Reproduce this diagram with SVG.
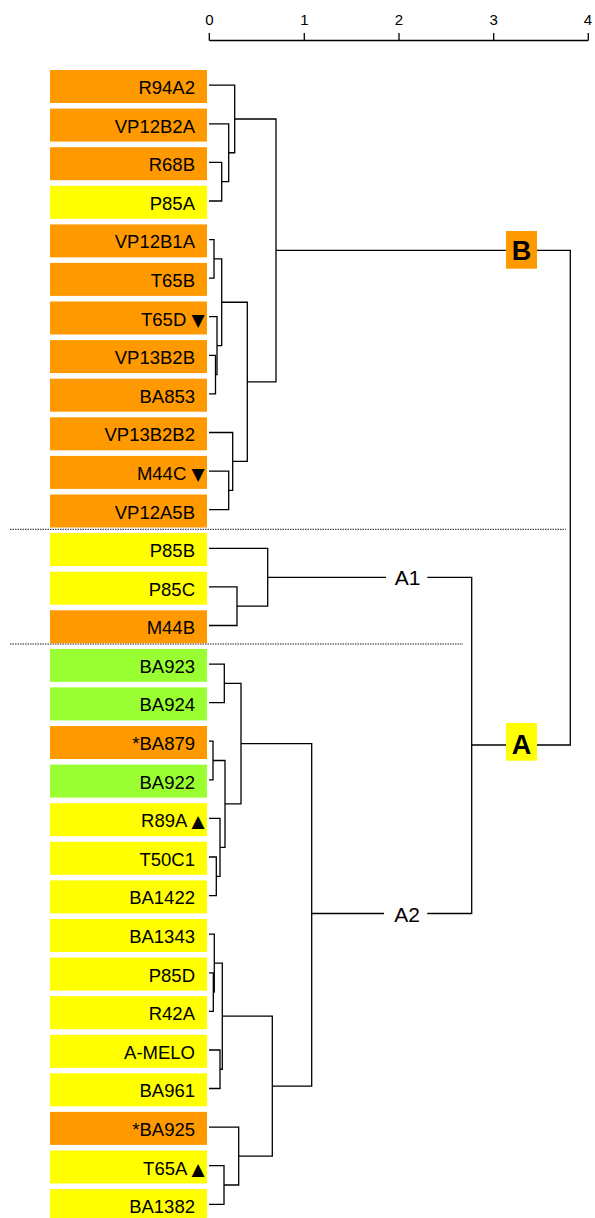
<svg xmlns="http://www.w3.org/2000/svg" width="595" height="1218" viewBox="0 0 595 1218">
<style>
.o{fill:#FF9900}.y{fill:#FFFF00}.g{fill:#99FF33}
.lb{font-family:"Liberation Sans","DejaVu Sans",sans-serif;font-size:18.5px;fill:#000;text-anchor:end}
.tri{font-family:"DejaVu Sans",sans-serif;font-size:17px}
.ax{font-family:"Liberation Sans",sans-serif;font-size:15px;fill:#000;text-anchor:middle}
.cl{font-family:"Liberation Sans",sans-serif;font-size:21px;fill:#000;text-anchor:middle}
.big{font-family:"Liberation Sans",sans-serif;font-size:27px;font-weight:bold;fill:#000;text-anchor:middle}
.ln{fill:none;stroke:#000;stroke-width:1.3}
.dot{fill:none;stroke:#222;stroke-width:1;stroke-dasharray:1.5 1}
</style>
<g id="axis">
<path class="ln" d="M209.3 40.5 H588.3 M209.3 33 V40.5 M304.3 33 V40.5 M399 33 V40.5 M493.7 33 V40.5 M588.3 33 V40.5"/>
<text class="ax" x="209.5" y="25">0</text>
<text class="ax" x="304.5" y="25">1</text>
<text class="ax" x="399" y="25">2</text>
<text class="ax" x="493.7" y="25">3</text>
<text class="ax" x="588" y="25">4</text>
</g>
<g id="separators">
<line class="dot" x1="10" y1="529.3" x2="566" y2="529.3"/>
<line class="dot" x1="10" y1="644" x2="463" y2="644"/>
</g>
<g id="n0"><rect class="o" x="50" y="70" width="157" height="33"/><text class="lb" x="195" y="94">R94A2</text></g>
<g id="n1"><rect class="o" x="50" y="108.6" width="157" height="33"/><text class="lb" x="195" y="132.6">VP12B2A</text></g>
<g id="n2"><rect class="o" x="50" y="147.2" width="157" height="33"/><text class="lb" x="195" y="171.2">R68B</text></g>
<g id="n3"><rect class="y" x="50" y="185.8" width="157" height="33"/><text class="lb" x="195" y="209.8">P85A</text></g>
<g id="n4"><rect class="o" x="50" y="224.4" width="157" height="33"/><text class="lb" x="195" y="248.4">VP12B1A</text></g>
<g id="n5"><rect class="o" x="50" y="262.9" width="157" height="33"/><text class="lb" x="195" y="286.9">T65B</text></g>
<g id="n6"><rect class="o" x="50" y="301.5" width="157" height="33"/><text class="lb" x="204.5" y="325.5">T65D <tspan class="tri">▼</tspan></text></g>
<g id="n7"><rect class="o" x="50" y="340.1" width="157" height="33"/><text class="lb" x="195" y="364.1">VP13B2B</text></g>
<g id="n8"><rect class="o" x="50" y="378.7" width="157" height="33"/><text class="lb" x="195" y="402.7">BA853</text></g>
<g id="n9"><rect class="o" x="50" y="417.3" width="157" height="33"/><text class="lb" x="195" y="441.3">VP13B2B2</text></g>
<g id="n10"><rect class="o" x="50" y="455.9" width="157" height="33"/><text class="lb" x="204.5" y="479.9">M44C <tspan class="tri">▼</tspan></text></g>
<g id="n11"><rect class="o" x="50" y="494.5" width="157" height="33"/><text class="lb" x="195" y="518.5">VP12A5B</text></g>
<g id="n12"><rect class="y" x="50" y="533.1" width="157" height="33"/><text class="lb" x="195" y="557.1">P85B</text></g>
<g id="n13"><rect class="y" x="50" y="571.7" width="157" height="33"/><text class="lb" x="195" y="595.7">P85C</text></g>
<g id="n14"><rect class="o" x="50" y="610.3" width="157" height="33"/><text class="lb" x="195" y="634.3">M44B</text></g>
<g id="n15"><rect class="g" x="50" y="648.9" width="157" height="33"/><text class="lb" x="195" y="672.9">BA923</text></g>
<g id="n16"><rect class="g" x="50" y="687.4" width="157" height="33"/><text class="lb" x="195" y="711.4">BA924</text></g>
<g id="n17"><rect class="o" x="50" y="726" width="157" height="33"/><text class="lb" x="195" y="750">*BA879</text></g>
<g id="n18"><rect class="g" x="50" y="764.6" width="157" height="33"/><text class="lb" x="195" y="788.6">BA922</text></g>
<g id="n19"><rect class="y" x="50" y="803.2" width="157" height="33"/><text class="lb" x="204.5" y="827.2">R89A <tspan class="tri">▲</tspan></text></g>
<g id="n20"><rect class="y" x="50" y="841.8" width="157" height="33"/><text class="lb" x="195" y="865.8">T50C1</text></g>
<g id="n21"><rect class="y" x="50" y="880.4" width="157" height="33"/><text class="lb" x="195" y="904.4">BA1422</text></g>
<g id="n22"><rect class="y" x="50" y="919" width="157" height="33"/><text class="lb" x="195" y="943">BA1343</text></g>
<g id="n23"><rect class="y" x="50" y="957.6" width="157" height="33"/><text class="lb" x="195" y="981.6">P85D</text></g>
<g id="n24"><rect class="y" x="50" y="996.2" width="157" height="33"/><text class="lb" x="195" y="1020.2">R42A</text></g>
<g id="n25"><rect class="y" x="50" y="1034.8" width="157" height="33"/><text class="lb" x="195" y="1058.8">A-MELO</text></g>
<g id="n26"><rect class="y" x="50" y="1073.3" width="157" height="33"/><text class="lb" x="195" y="1097.3">BA961</text></g>
<g id="n27"><rect class="o" x="50" y="1111.9" width="157" height="33"/><text class="lb" x="195" y="1135.9">*BA925</text></g>
<g id="n28"><rect class="y" x="50" y="1150.5" width="157" height="33"/><text class="lb" x="204.5" y="1174.5">T65A <tspan class="tri">▲</tspan></text></g>
<g id="n29"><rect class="y" x="50" y="1189.1" width="157" height="33"/><text class="lb" x="195" y="1213.1">BA1382</text></g>
<g id="clusterB"><rect class="o" x="506" y="231" width="31" height="37.7"/><text class="big" x="521.5" y="259.5">B</text></g>
<g id="clusterA"><rect class="y" x="506" y="723" width="31" height="37.7"/><text class="big" x="521.5" y="754.2">A</text></g>
<g id="clusterA1"><text class="cl" x="407.5" y="585">A1</text></g>
<g id="clusterA2"><text class="cl" x="407" y="922.3">A2</text></g>
<g id="connectors">
<path class="ln" d="M209 162.4 H221.7 V201 H209"/>
<path class="ln" d="M209 123.8 H228.7 V181.7 H221.7"/>
<path class="ln" d="M209 85.2 H234.7 V152.75 H228.7"/>
<path class="ln" d="M209 355.3 H215.5 V393.9 H209"/>
<path class="ln" d="M209 316.7 H217 V374.6 H215.5"/>
<path class="ln" d="M209 239.6 H214 V278.1 H209"/>
<path class="ln" d="M214 258.85 H221.7 V345.65 H217"/>
<path class="ln" d="M209 471.1 H228.7 V509.7 H209"/>
<path class="ln" d="M209 432.5 H232.7 V490.4 H228.7"/>
<path class="ln" d="M221.7 302.25 H247.3 V461.45 H232.7"/>
<path class="ln" d="M234.7 118.98 H276 V381.85 H247.3"/>
<path class="ln" d="M276 250.4 H506"/>
<path class="ln" d="M537 250.4 H570.3 V745 H537"/>
<path class="ln" d="M209 586.9 H237 V625.5 H209"/>
<path class="ln" d="M209 548.3 H267.7 V606.2 H237"/>
<path class="ln" d="M267.7 577.3 H386"/>
<path class="ln" d="M427.3 577.3 H471.7 V913.5 H427.3"/>
<path class="ln" d="M384 913.5 H311.7"/>
<path class="ln" d="M471.7 745 H506"/>
<path class="ln" d="M209 664.1 H224.3 V702.6 H209"/>
<path class="ln" d="M209 741.2 H213 V779.8 H209"/>
<path class="ln" d="M209 857 H216.3 V895.6 H209"/>
<path class="ln" d="M209 818.4 H220 V876.3 H216.3"/>
<path class="ln" d="M213 760.5 H225 V847.35 H220"/>
<path class="ln" d="M224.3 683.35 H241 V803.9 H225"/>
<path class="ln" d="M209 972.8 H213.3 V1011.4 H209"/>
<path class="ln" d="M209 934.2 H214.3 V992.1 H213.3"/>
<path class="ln" d="M209 1050 H220 V1088.5 H209"/>
<path class="ln" d="M214.3 963.15 H222.3 V1069.25 H220"/>
<path class="ln" d="M209 1165.7 H224 V1204.3 H209"/>
<path class="ln" d="M209 1127.1 H238.7 V1185 H224"/>
<path class="ln" d="M222.3 1016.2 H272.3 V1156.05 H238.7"/>
<path class="ln" d="M241 743.6 H311.7 V1086.1 H272.3"/>
</g>
</svg>
